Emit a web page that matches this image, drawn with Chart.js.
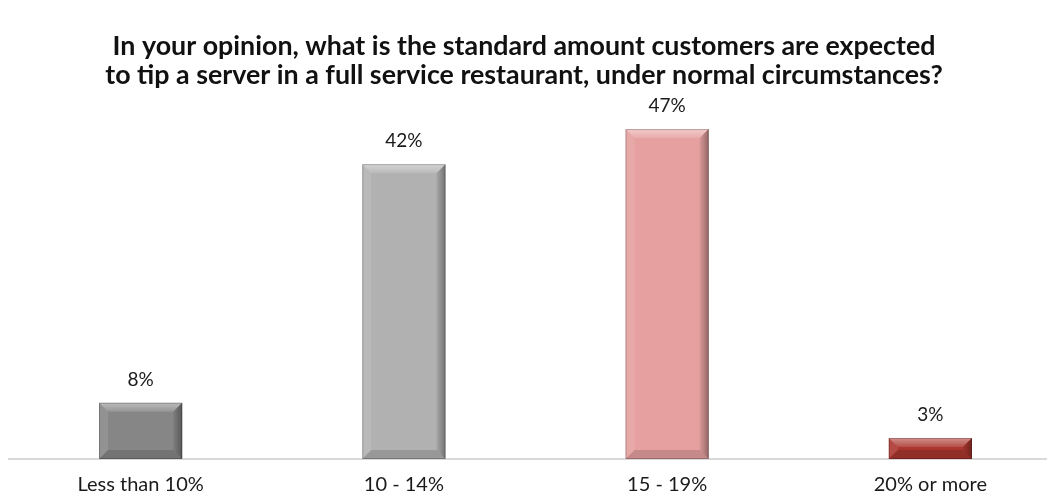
<!DOCTYPE html>
<html>
<head>
<meta charset="utf-8">
<script src="https://cdn.jsdelivr.net/npm/chart.js@4"></script>
<style>
  html, body { margin: 0; padding: 0; background: #ffffff; overflow: hidden; }
  #wrap { width: 1047px; height: 499px; overflow: hidden; }
</style>
</head>
<body>
<div id="wrap"><canvas id="tipChart" width="1062" height="499"></canvas></div>
<script>
const categories = ['Less than 10%', '10 - 14%', '15 - 19%', '20% or more'];
const shares = [8, 42, 47, 3];
const barColors = ['#868686', '#b1b1b1', '#e5a09f', '#ab362f'];
const titleLines = [
    'In your opinion, what is the standard amount customers are expected',
    'to tip a server in a full service restaurant, under normal circumstances?'
];

const FONT = 'Lato, "Open Sans", sans-serif';

// The canvas runs a little past the visible page on the right,
// so the heading is centred on the visible width instead of the canvas
const heading = {
    id: 'heading',
    afterDraw(chart) {
        const ctx = chart.ctx;
        ctx.save();
        ctx.font = 'bold 26.8px ' + FONT;
        ctx.fillStyle = '#111111';
        ctx.textAlign = 'center';
        ctx.textBaseline = 'middle';
        titleLines.forEach(function(line, i) {
            ctx.fillText(line, 524, 46 + i * 29);
        });
        ctx.restore();
    }
};

// Beveled look on every bar: light top/left faces, dark right/bottom faces
const bevelPlugin = {
    id: 'bevel',
    afterDatasetsDraw(chart) {
        const ctx = chart.ctx;
        chart.getDatasetMeta(0).data.forEach(function(bar) {
            const p = bar.getProps(['x', 'y', 'width', 'base'], true);
            const l = p.x - p.width / 2, r = p.x + p.width / 2;
            const t = p.y, b = p.base;
            const s = Math.min(9, (b - t) / 2);
            ctx.save();
            function face(pts, fill) {
                ctx.beginPath();
                ctx.moveTo(pts[0][0], pts[0][1]);
                for (let i = 1; i < pts.length; i++) ctx.lineTo(pts[i][0], pts[i][1]);
                ctx.closePath();
                ctx.fillStyle = fill;
                ctx.fill();
            }
            const topGrad = ctx.createLinearGradient(0, t, 0, t + s);
            topGrad.addColorStop(0, 'rgba(255,255,255,0.45)');
            topGrad.addColorStop(1, 'rgba(255,255,255,0.12)');
            face([[l, t], [r, t], [r - s, t + s], [l + s, t + s]], topGrad);
            face([[l, t], [l + s, t + s], [l + s, b - s], [l, b]], 'rgba(255,255,255,0.1)');
            const rightGrad = ctx.createLinearGradient(r - s, 0, r, 0);
            rightGrad.addColorStop(0, 'rgba(0,0,0,0.06)');
            rightGrad.addColorStop(1, 'rgba(0,0,0,0.35)');
            face([[r, t], [r, b], [r - s, b - s], [r - s, t + s]], rightGrad);
            face([[l, b], [l + s, b - s], [r - s, b - s], [r, b]], 'rgba(0,0,0,0.14)');
            ctx.strokeStyle = 'rgba(0,0,0,0.22)';
            ctx.lineWidth = 1;
            ctx.strokeRect(l + 0.5, t + 0.5, p.width - 1, b - t - 1);
            ctx.restore();
        });
    }
};

// Percentage label above each bar
const valueLabels = {
    id: 'valueLabels',
    afterDatasetsDraw(chart) {
        const ctx = chart.ctx;
        const values = chart.data.datasets[0].data;
        ctx.save();
        ctx.font = '19px ' + FONT;
        ctx.fillStyle = '#1a1a1a';
        ctx.textAlign = 'center';
        ctx.textBaseline = 'middle';
        chart.getDatasetMeta(0).data.forEach(function(bar, i) {
            ctx.fillText(values[i] + '%', bar.x, bar.y - 23);
        });
        ctx.restore();
    }
};

new Chart(document.getElementById('tipChart').getContext('2d'), {
    type: 'bar',
    data: {
        labels: categories,
        datasets: [{
            data: shares,
            backgroundColor: barColors,
            borderWidth: 0,
            categoryPercentage: 1,
            barPercentage: 0.316
        }]
    },
    options: {
        responsive: false,
        animation: false,
        layout: { padding: { left: 9, right: 0, top: 108, bottom: 0 } },
        plugins: {
            legend: { display: false },
            tooltip: { enabled: false },
            title: { display: false }
        },
        scales: {
            x: {
                grid: { display: false, drawTicks: false },
                border: { display: true, color: '#d9d9d9', width: 2 },
                ticks: { color: '#1a1a1a', font: { family: FONT, size: 20 }, padding: 14 },
                afterFit(scale) { scale.height = 40; }
            },
            y: {
                display: false,
                min: 0,
                max: 50
            }
        }
    },
    plugins: [heading, bevelPlugin, valueLabels]
});
</script>
</body>
</html>
